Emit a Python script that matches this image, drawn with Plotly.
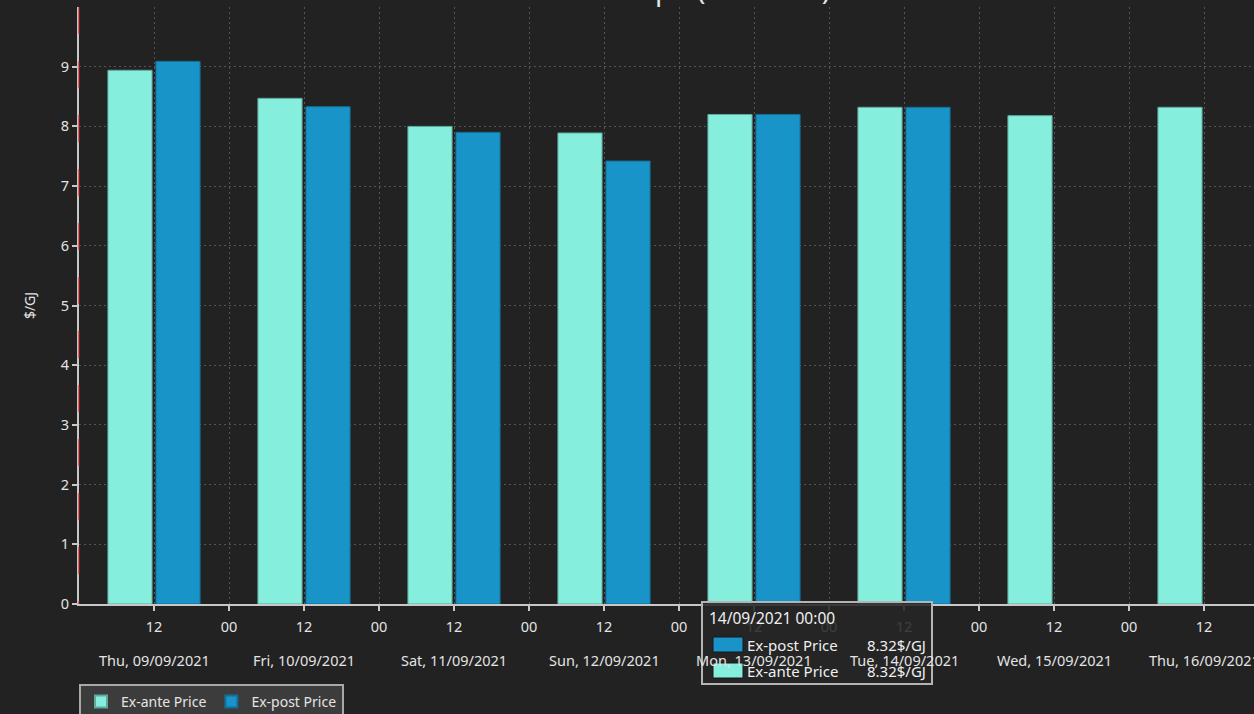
import plotly.graph_objects as go

# ---- data ----
dates = ["2021-09-09 12:00", "2021-09-10 12:00", "2021-09-11 12:00", "2021-09-12 12:00",
         "2021-09-13 12:00", "2021-09-14 12:00", "2021-09-15 12:00", "2021-09-16 12:00"]
ex_ante = [8.94, 8.47, 8.00, 7.89, 8.20, 8.32, 8.18, 8.32]
ex_post = [9.09, 8.33, 7.90, 7.42, 8.20, 8.32, None, None]

tick_times = ["2021-09-09 12:00", "2021-09-10 00:00", "2021-09-10 12:00", "2021-09-11 00:00",
              "2021-09-11 12:00", "2021-09-12 00:00", "2021-09-12 12:00", "2021-09-13 00:00",
              "2021-09-13 12:00", "2021-09-14 00:00", "2021-09-14 12:00", "2021-09-15 00:00",
              "2021-09-15 12:00", "2021-09-16 00:00", "2021-09-16 12:00"]
hour_labels = ["12", "00", "12", "00", "12", "00", "12", "00",
               "12", "00", "12", "00", "12", "00", "12"]
day_labels = ["Thu, 09/09/2021", "Fri, 10/09/2021", "Sat, 11/09/2021", "Sun, 12/09/2021",
              "Mon, 13/09/2021", "Tue, 14/09/2021", "Wed, 15/09/2021", "Thu, 16/09/2021"]

tooltip_title = "14/09/2021 00:00"
tooltip_rows = [("Ex-post Price", "8.32$/GJ"), ("Ex-ante Price", "8.32$/GJ")]

ANTE = "#86eedc"
POST = "#1894c8"
BG = "#222222"
TXT = "#e4e4e4"
FONT = "Noto Sans"
GRID = "#555555"

# plot-area geometry helpers (pixels -> paper)
L, R, T, B = 79, 0, 7, 110
PW, PH = 1254 - L - R, 714 - T - B
def px(xpix):
    return (xpix - L) / PW
def py(ypix):
    return (714 - B - ypix) / PH

fig = go.Figure()
fig.add_trace(go.Bar(x=dates, y=ex_ante, name="Ex-ante Price",
                     marker=dict(color=ANTE, line=dict(color="#5fa89c", width=1)),
                     hoverinfo="skip"))
fig.add_trace(go.Bar(x=dates, y=ex_post, name="Ex-post Price",
                     marker=dict(color=POST, line=dict(color="#146f96", width=1)),
                     hoverinfo="skip"))

fig.update_layout(
    width=1254, height=714,
    paper_bgcolor=BG, plot_bgcolor=BG,
    margin=dict(l=L, r=R, t=T, b=B, autoexpand=False),
    barmode="group", bargap=0.36, bargroupgap=0.08,
    font=dict(family=FONT, color=TXT, size=14),
    showlegend=True,
    legend=dict(orientation="h", x=0, xanchor="left", y=py(684), yanchor="top",
                bgcolor="#3c3c3c", bordercolor="#a8a8a8", borderwidth=2,
                font=dict(size=14, color=TXT), traceorder="normal",
                itemsizing="constant"),
)

fig.update_xaxes(
    type="date", range=["2021-09-09 00:00", "2021-09-16 20:00"],
    tickmode="array", tickvals=tick_times, ticktext=hour_labels,
    ticks="outside", ticklen=5, tickwidth=2, tickcolor="#c8c8c8",
    ticklabelstandoff=4,
    showline=True, linecolor="#c8c8c8", linewidth=2,
    showgrid=True, gridcolor=GRID, griddash="2px,3px", gridwidth=1,
    tickfont=dict(size=14.5, color=TXT), zeroline=False, automargin=False,
)
fig.update_yaxes(
    range=[0, 10], tickmode="array", tickvals=list(range(0, 10)),
    ticks="outside", ticklen=5, tickwidth=2, tickcolor="#c8c8c8",
    showline=True, linecolor="#c8c8c8", linewidth=2,
    showgrid=True, gridcolor=GRID, griddash="2px,3px", gridwidth=1,
    tickfont=dict(size=14.5, color=TXT), zeroline=False, automargin=False,
    title=dict(text="$/GJ", font=dict(size=14, color=TXT), standoff=22),
)

# day labels under each noon tick
noon_ticks = [t for t, h in zip(tick_times, hour_labels) if h == "12"]
for t, lab in zip(noon_ticks, day_labels):
    fig.add_annotation(text=lab, x=t, xref="x", yref="paper", y=py(660),
                       xanchor="center", yanchor="middle", showarrow=False,
                       font=dict(size=14.5, color=TXT))

# red dashed overlay on the y axis line
fig.add_shape(type="line", xref="paper", yref="paper", x0=0, x1=0, y0=1, y1=0,
              line=dict(color="#d01010", width=1, dash="27px,27px"))

# clipped title at top
fig.add_annotation(text="STTM Price Graph (Brisbane)", xref="paper", yref="paper",
                   x=px(643), y=1, xanchor="center", yanchor="bottom",
                   yshift=-3, showarrow=False,
                   font=dict(size=28, color=TXT, family=FONT))

# tooltip box
fig.add_shape(type="rect", xref="paper", yref="paper",
              x0=px(702), x1=px(932), y0=py(602), y1=py(684),
              fillcolor="rgba(38,38,38,0.88)", line=dict(color="#b4b4b4", width=2),
              layer="above")
fig.add_annotation(text=tooltip_title, xref="paper", yref="paper",
                   x=px(707), y=py(618), xanchor="left",
                   yanchor="middle", showarrow=False, font=dict(size=15.5, color="#f0f0f0"))
row_y = [645, 671]
sw_colors = [POST, ANTE]
for (lab, val), ry, col in zip(tooltip_rows, row_y, sw_colors):
    fig.add_shape(type="rect", xref="paper", yref="paper",
                  x0=px(713), x1=px(743), y0=py(ry - 8), y1=py(ry + 7),
                  fillcolor=col, line=dict(color="#1a1a1a", width=1), layer="above")
    fig.add_annotation(text=lab, xref="paper", yref="paper",
                       x=px(745), y=py(ry), xanchor="left",
                       yanchor="middle", showarrow=False, font=dict(size=15, color="#f0f0f0"))
    fig.add_annotation(text=val, xref="paper", yref="paper",
                       x=px(928), y=py(ry), xanchor="right",
                       yanchor="middle", showarrow=False, font=dict(size=15, color="#f0f0f0"))

fig.write_html("out.html", config={"displayModeBar": False},
               post_script="document.body.style.margin='0';document.body.style.background='#222222';")
